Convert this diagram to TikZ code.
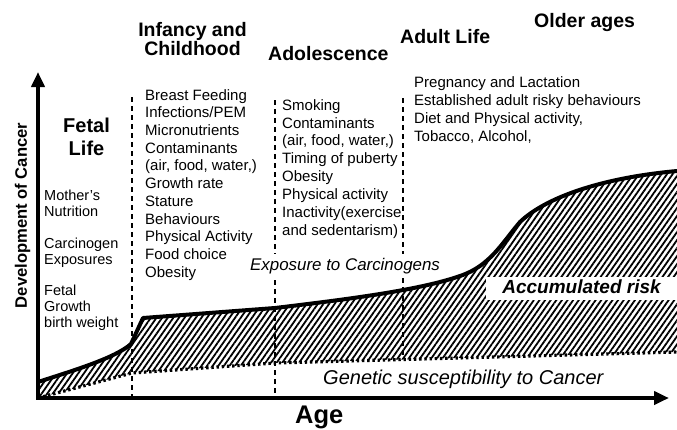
\documentclass[tikz,border=0pt]{standalone}
\usepackage{fontspec}
\setmainfont{Liberation Sans}
\usetikzlibrary{arrows.meta,patterns.meta}
\begin{document}
\begin{tikzpicture}[x=1pt,y=-1pt,
  txt/.style={inner sep=0pt, align=left, font=\fontsize{15}{17.8}\selectfont},
  head/.style={inner sep=0pt, font=\fontsize{19.5}{18.5}\selectfont\bfseries},
  divider/.style={line width=1.3pt, dash pattern=on 5pt off 4pt},
  axis/.style={line width=3.8pt, line join=miter,
    {Triangle[length=15pt,width=13pt]}-{Triangle[length=15pt,width=13pt]}},
  riskcurve/.style={line width=4pt, line join=round, line cap=round},
  genline/.style={line width=3.2pt, dash pattern=on 2.4pt off 2.8pt},
  hatch/.style={pattern={Lines[angle=55,distance=4.6pt,line width=1.8pt]}}
]
\useasboundingbox (0,0) rectangle (677,429);

\coordinate (O) at (38,398);
\coordinate (ytop) at (38,72);
\coordinate (xend) at (669,398);
\coordinate (g1) at (132,373);
\coordinate (g2) at (275,363);
\coordinate (gR) at (677,352);
\coordinate (d1t) at (132,97);
\coordinate (d1b) at (132,398);
\coordinate (d2t) at (275,100);
\coordinate (d2b) at (275,398);
\coordinate (d3t) at (403,98);
\coordinate (d3b) at (403,356);

\def\riskpath{(38,382) .. controls (75,370) and (115,358) .. (131,344) -- (143,318) -- (275,308)
  .. controls (350,299) and (420,290) .. (460,276)
  .. controls (490,266) and (502,243) .. (520,222)
  .. controls (545,198) and (600,178) .. (677,171)}

% hatched accumulated risk area
\path[hatch] \riskpath -- (gR) -- (g2) -- (g1) -- (O) -- cycle;

% period dividers
\draw[divider] (d1t) -- (d1b);
\draw[divider] (d2t) -- (d2b);
\draw[divider] (d3t) -- (d3b);

% curves
\draw[riskcurve] \riskpath;
\draw[genline] (O) -- (g1) -- (g2) -- (gR);

% axes
\draw[axis] (ytop) -- (O) -- (xend);

% headings
\node[head, anchor=north, align=center] (infancy) at (192.5,22.5) {Infancy and\\Childhood};
\node[head, anchor=base west] (adol) at (268,60) {Adolescence};
\node[head, anchor=base west] (adult) at (400,43) {Adult Life};
\node[head, anchor=base west] (older) at (534,27) {Older ages};
\node[head, anchor=north, align=center, font=\fontsize{20}{23}\selectfont\bfseries] (fetal) at (86.5,117.4) {Fetal\\Life};

% axis labels
\node[inner sep=0pt, rotate=90, anchor=base, font=\fontsize{16.6}{18}\selectfont\bfseries] (ylab) at (27,215.5) {Development of Cancer};
\node[inner sep=0pt, anchor=base west, font=\fontsize{25.5}{26}\selectfont\bfseries] (age) at (295,423) {Age};

% fetal column
\node[txt, anchor=north west, font=\fontsize{14.5}{16}\selectfont] (mother) at (44,190) {Mother's\\Nutrition};
\node[txt, anchor=north west, font=\fontsize{14.5}{16}\selectfont] (carc) at (44,237.4) {Carcinogen\\Exposures};
\node[txt, anchor=north west, font=\fontsize{14.5}{16}\selectfont] (fgrowth) at (44,284.4) {Fetal\\Growth\\birth weight};

% infancy column
\node[txt, anchor=north west, font=\fontsize{15}{17.7}\selectfont] (infcol) at (145,89.1) {Breast Feeding\\Infections/PEM\\Micronutrients\\Contaminants\\(air, food, water,)\\Growth rate\\Stature\\Behaviours\\Physical Activity\\Food choice\\Obesity};

% adolescence column
\node[txt, anchor=north west, font=\fontsize{15}{17.9}\selectfont] (adolcol) at (282,99.1) {Smoking\\Contaminants\\(air, food, water,)\\Timing of puberty\\Obesity\\Physical activity\\Inactivity(exercise\\and sedentarism)};

% adult column
\node[txt, anchor=north west, font=\fontsize{15}{18.1}\selectfont] (adultcol) at (414,76.4) {Pregnancy and Lactation\\Established adult risky behaviours\\Diet and Physical activity,\\Tobacco, Alcohol,};

% curve labels
\node[inner sep=4pt, fill=white, anchor=base west, font=\fontsize{16.9}{18}\selectfont\itshape] (expo) at (246,270) {Exposure to Carcinogens};
\node[fill=white, inner sep=0pt, minimum width=191pt, minimum height=23pt, text height=13pt, text depth=3pt, font=\fontsize{19}{20}\selectfont\bfseries\itshape] (acc) at (581.5,288.5) {Accumulated risk};
\node[inner sep=0pt, anchor=base west, font=\fontsize{20}{22}\selectfont\itshape] (gen) at (323,384) {Genetic susceptibility to Cancer};

\end{tikzpicture}
\end{document}
